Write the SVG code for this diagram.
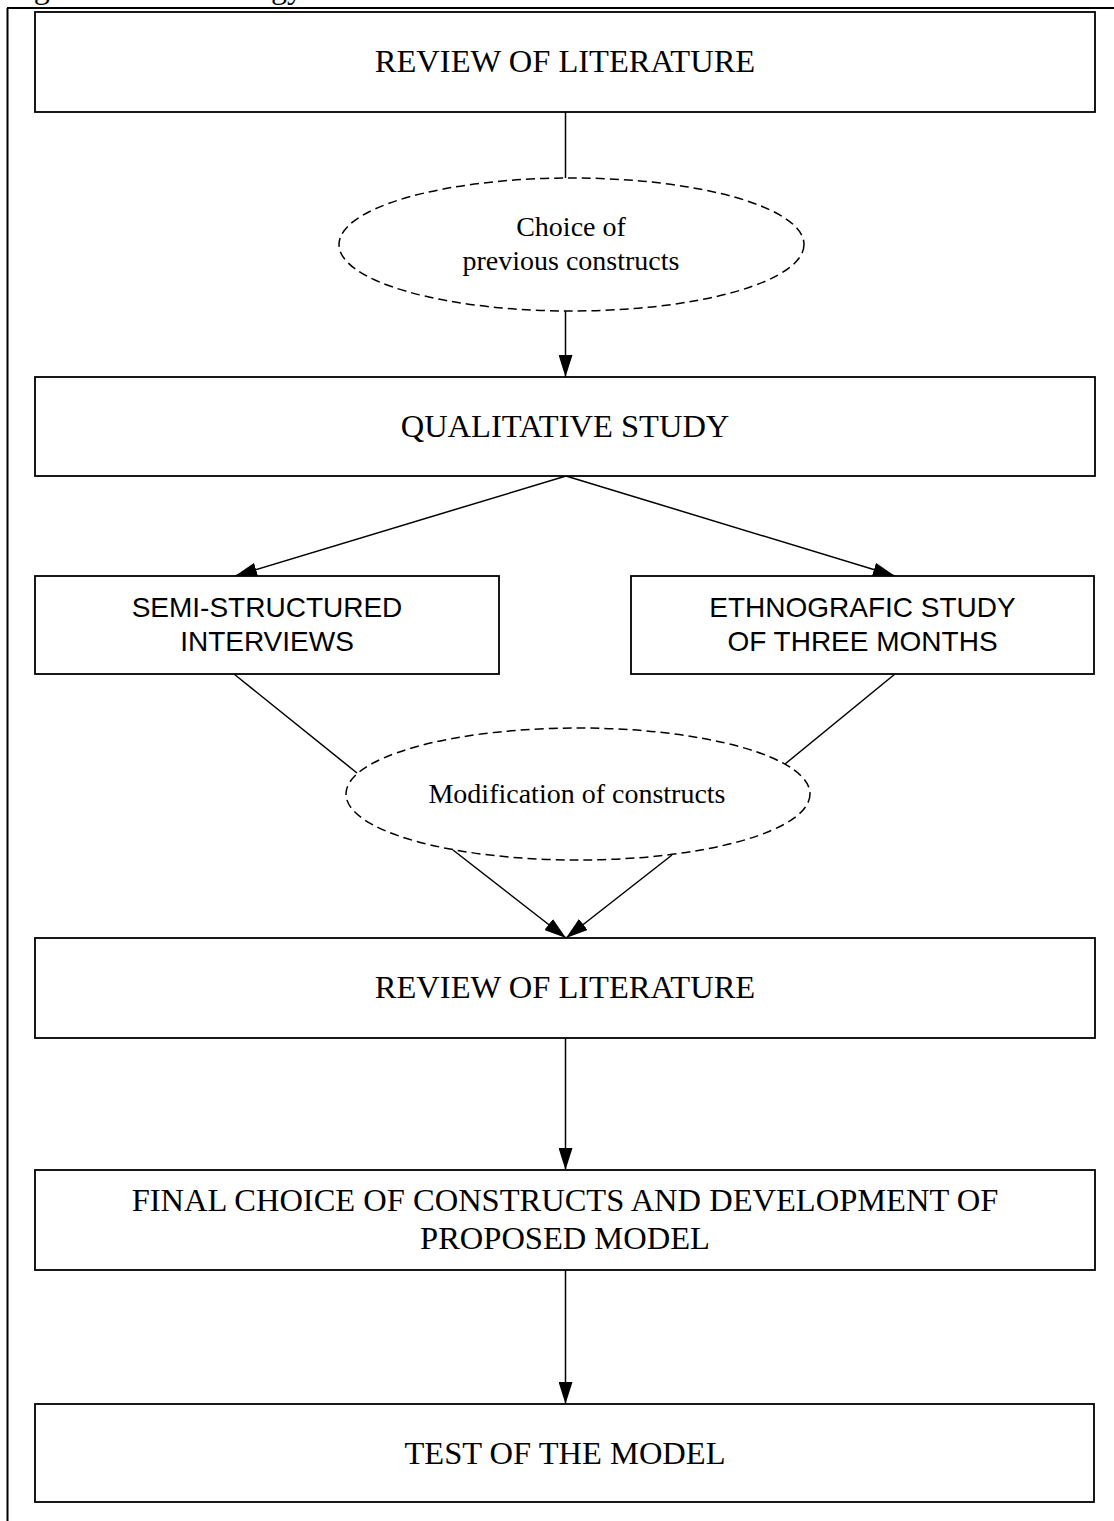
<svg xmlns="http://www.w3.org/2000/svg" width="1114" height="1521" viewBox="0 0 1114 1521">
<style>
.box{fill:#fff;stroke:#000;stroke-width:1.8}
.oval{fill:none;stroke:#000;stroke-width:1.5;stroke-dasharray:9 5}
.conn{stroke:#000;stroke-width:1.5;fill:none}
.serif{font-family:"Liberation Serif","Times New Roman",serif;font-size:32.5px;fill:#000;text-anchor:middle}
.oserif{font-family:"Liberation Serif","Times New Roman",serif;font-size:28px;fill:#000;text-anchor:middle}
.sans{font-family:"Liberation Sans",Arial,sans-serif;font-size:28px;fill:#000;text-anchor:middle}
</style>
<defs>
<marker id="arr" markerUnits="userSpaceOnUse" markerWidth="22" markerHeight="14" refX="22" refY="7" orient="auto">
<path d="M0,0 L22,7 L0,14 Z" fill="#000"/>
</marker>
</defs>
<rect width="1114" height="1521" fill="#fff"/>
<g id="caption">
<text x="7" y="-2" font-family="Liberation Serif, Times New Roman, serif" font-size="32">Figure 1. Methodology</text>
</g>
<g id="frame">
<line x1="7.5" y1="8" x2="7.5" y2="1521" stroke="#000" stroke-width="2"/>
<line x1="7" y1="8" x2="1114" y2="8" stroke="#000" stroke-width="2"/>
</g>
<g id="connectors">
<line class="conn" x1="565.5" y1="112" x2="565.5" y2="178"/>
<line class="conn" x1="565.5" y1="311" x2="565.5" y2="377" marker-end="url(#arr)"/>
<line class="conn" x1="566" y1="476" x2="235" y2="576" marker-end="url(#arr)"/>
<line class="conn" x1="566" y1="476" x2="895" y2="576" marker-end="url(#arr)"/>
<line class="conn" x1="234" y1="674" x2="357" y2="773"/>
<line class="conn" x1="895" y1="674" x2="785" y2="764"/>
<line class="conn" x1="453" y1="850" x2="566" y2="938" marker-end="url(#arr)"/>
<line class="conn" x1="672" y1="855" x2="566" y2="938" marker-end="url(#arr)"/>
<line class="conn" x1="565.5" y1="1038" x2="565.5" y2="1170" marker-end="url(#arr)"/>
<line class="conn" x1="565.5" y1="1270" x2="565.5" y2="1404" marker-end="url(#arr)"/>
</g>
<g id="review1">
<rect class="box" x="35" y="12" width="1060" height="100"/>
<text class="serif" x="565" y="72">REVIEW OF LITERATURE</text>
</g>
<g id="choice">
<ellipse class="oval" cx="571.5" cy="244.5" rx="232.5" ry="66.5"/>
<text class="oserif" x="571" y="236">Choice of</text>
<text class="oserif" x="571" y="270">previous constructs</text>
</g>
<g id="qualitative">
<rect class="box" x="35" y="377" width="1060" height="99"/>
<text class="serif" x="565" y="437">QUALITATIVE STUDY</text>
</g>
<g id="semi">
<rect class="box" x="35" y="576" width="464" height="98"/>
<text class="sans" x="267" y="617">SEMI-STRUCTURED</text>
<text class="sans" x="267" y="651">INTERVIEWS</text>
</g>
<g id="ethno">
<rect class="box" x="631" y="576" width="463" height="98"/>
<text class="sans" x="862.5" y="617">ETHNOGRAFIC STUDY</text>
<text class="sans" x="862.5" y="651">OF THREE MONTHS</text>
</g>
<g id="modification">
<ellipse class="oval" cx="578" cy="794" rx="232" ry="66"/>
<text class="oserif" x="577" y="803">Modification of constructs</text>
</g>
<g id="review2">
<rect class="box" x="35" y="938" width="1060" height="100"/>
<text class="serif" x="565" y="998">REVIEW OF LITERATURE</text>
</g>
<g id="final">
<rect class="box" x="35" y="1170" width="1060" height="100"/>
<text class="serif" x="565" y="1211">FINAL CHOICE OF CONSTRUCTS AND DEVELOPMENT OF</text>
<text class="serif" x="565" y="1249">PROPOSED MODEL</text>
</g>
<g id="test">
<rect class="box" x="35" y="1404" width="1059" height="98"/>
<text class="serif" x="565" y="1464">TEST OF THE MODEL</text>
</g>
</svg>
